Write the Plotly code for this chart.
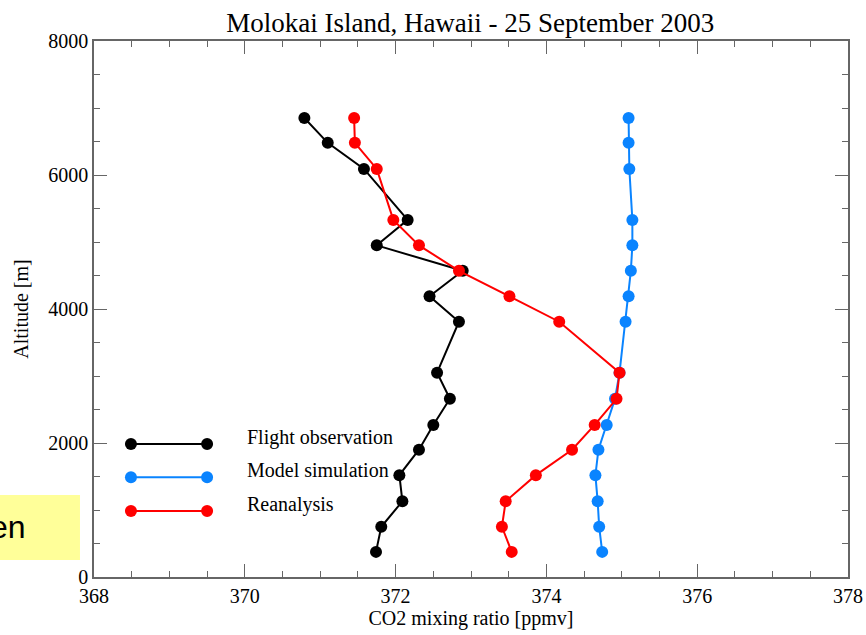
import plotly.graph_objects as go

altitude = [375, 750, 1130, 1520, 1900, 2270, 2660, 3050, 3810, 4190, 4570, 4950, 5330, 6090, 6480, 6850]
flight_obs = [371.74, 371.81, 372.09, 372.05, 372.31, 372.50, 372.72, 372.55, 372.84, 372.45, 372.89, 371.75, 372.16, 371.58, 371.10, 370.79]
model_sim = [374.74, 374.70, 374.68, 374.65, 374.69, 374.80, 374.91, 374.97, 375.05, 375.09, 375.12, 375.14, 375.14, 375.10, 375.09, 375.09]
reanalysis = [373.54, 373.41, 373.46, 373.86, 374.34, 374.64, 374.93, 374.97, 374.17, 373.51, 372.84, 372.31, 371.97, 371.75, 371.46, 371.45]

series_names = ["Flight observation", "Model simulation", "Reanalysis"]
series_colors = ["#000000", "#0A84FF", "#FF0000"]
x_ticks = [368, 370, 372, 374, 376, 378]
y_ticks = [0, 2000, 4000, 6000, 8000]

FONT = "Liberation Serif, Times New Roman, serif"
AXC = "#666666"

fig = go.Figure()
for name, vals, col in zip(series_names, [flight_obs, model_sim, reanalysis], series_colors):
    fig.add_trace(go.Scatter(
        x=vals, y=altitude, mode="lines+markers", name=name,
        line=dict(color=col, width=2),
        marker=dict(color=col, size=12, line=dict(width=0)),
        showlegend=False,
    ))

# manual legend (keys in paper coordinates)
leg_y = [0.248, 0.186, 0.123]
for name, col, yy in zip(series_names, series_colors, leg_y):
    fig.add_shape(type="line", xref="paper", yref="paper", x0=0.049, x1=0.150, y0=yy, y1=yy,
                  line=dict(color=col, width=2))
    for xx in (0.049, 0.150):
        fig.add_shape(type="circle", xref="paper", yref="paper", xsizemode="pixel", ysizemode="pixel",
                      xanchor=xx, yanchor=yy, x0=-6, x1=6, y0=-6, y1=6,
                      fillcolor=col, line=dict(width=0))
    fig.add_annotation(xref="paper", yref="paper", x=0.200, y=yy + 0.013, text=name,
                       showarrow=False, xanchor="left", yanchor="middle",
                       font=dict(family=FONT, size=20, color="#000"))

# yellow overlay box with cut-off text
fig.add_shape(type="rect", xref="paper", yref="paper", x0=-0.1247, x1=-0.0186, y0=0.0317, y1=0.1530,
              fillcolor="#FFFF99", line=dict(width=0), layer="above")
fig.add_annotation(xref="paper", yref="paper", x=-0.1247, y=0.094, text="en", showarrow=False,
                   xanchor="right", yanchor="middle", xshift=28,
                   font=dict(family="Liberation Sans, Arial, sans-serif", size=32, color="#000"))

fig.update_layout(
    width=866, height=635,
    margin=dict(l=94, r=18, t=41, b=58, autoexpand=False),
    paper_bgcolor="white", plot_bgcolor="white",
    title=dict(text="Molokai Island, Hawaii - 25 September 2003", x=0.543, xanchor="center",
               y=0.965, yanchor="middle", font=dict(family=FONT, size=27, color="#000")),
    font=dict(family=FONT, size=20, color="#000"),
)
fig.update_xaxes(
    range=[368, 378], tickvals=x_ticks, ticktext=[str(v) for v in x_ticks],
    ticks="inside", ticklen=13, tickwidth=1, tickcolor=AXC,
    minor=dict(dtick=0.5, ticks="inside", ticklen=6, tickcolor=AXC, tickwidth=1),
    showline=True, linecolor=AXC, linewidth=1.5, mirror="allticks",
    showgrid=False, zeroline=False, automargin=False,
    tickfont=dict(family=FONT, size=20, color="#000"),
    title=dict(text="CO2 mixing ratio [ppmv]", font=dict(family=FONT, size=20, color="#000"), standoff=3),
)
fig.update_yaxes(
    range=[0, 8000], tickvals=y_ticks, ticktext=[str(v) for v in y_ticks],
    ticks="inside", ticklen=13, tickwidth=1, tickcolor=AXC,
    minor=dict(dtick=500, ticks="inside", ticklen=6, tickcolor=AXC, tickwidth=1),
    showline=True, linecolor=AXC, linewidth=1.5, mirror="allticks",
    showgrid=False, zeroline=False, automargin=False,
    tickfont=dict(family=FONT, size=20, color="#000"),
    title=dict(text="Altitude [m]", font=dict(family=FONT, size=20, color="#000"), standoff=14),
)

fig.write_html("out.html", config={"displayModeBar": False},
               post_script="document.body.style.margin='0';document.body.style.overflow='hidden';")
